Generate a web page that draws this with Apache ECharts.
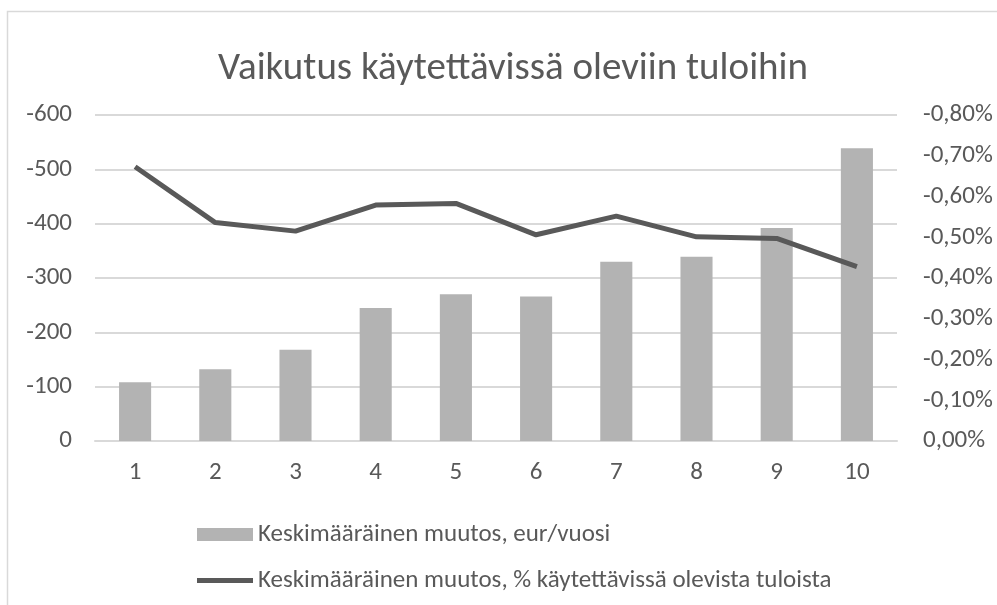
<!DOCTYPE html>
<html><head><meta charset="utf-8">
<script src="https://cdn.jsdelivr.net/npm/echarts@6/dist/echarts.min.js"></script>
<style>html,body{margin:0;padding:0;background:#fff}#c{width:997px;height:605px}</style>
</head><body><div id="c"></div>
<script>
const titleText = 'Vaikutus käytettävissä oleviin tuloihin';
const categories = ['1','2','3','4','5','6','7','8','9','10'];
const barName = 'Keskimääräinen muutos, eur/vuosi';
const lineName = 'Keskimääräinen muutos, % käytettävissä olevista tuloista';
const eurValues = [-108, -132, -168, -245, -270, -266, -330, -339, -392, -539];
const pctValues = [-0.673, -0.536, -0.515, -0.579, -0.583, -0.506, -0.552, -0.501, -0.497, -0.428];

const FONT = 'Carlito, "Noto Sans"';
const chart = echarts.init(document.getElementById('c'), null, {renderer:'canvas'});
chart.setOption({
  animation: false,
  backgroundColor: '#fff',
  textStyle: {fontFamily: FONT},
  graphic: [{type:'rect', shape:{x:7.5, y:11.5, width:995, height:600}, style:{fill:'none', stroke:'#d9d9d9', lineWidth:1.5}}],
  title: {text: titleText, left: 213, top: 45, textStyle:{fontFamily: FONT, fontSize: 39, fontWeight:'normal', color:'#595959'}},
  grid: {left: 95, right: 100, top: 115, bottom: 164},
  legend: {
    orient: 'vertical', left: 192, top: 517, itemGap: 21, itemWidth: 56, itemHeight: 13,
    textStyle: {fontFamily: FONT, fontSize: 25, color:'#595959'},
    data: [{name: barName, icon:'rect'}, {name: lineName, icon:'path://M0,0 L56,0 L56,5 L0,5 Z'}]
  },
  xAxis: {
    type: 'category', data: categories,
    axisLine: {lineStyle:{color:'#d9d9d9', width:2}}, axisTick:{show:false},
    axisLabel: {color:'#595959', fontSize: 25, fontFamily: FONT, margin: 19}
  },
  yAxis: [{
    type:'value', min:-600, max:0, interval:100, inverse:true,
    axisLine:{show:false}, axisTick:{show:false},
    splitLine:{lineStyle:{color:'#d9d9d9', width:2}},
    axisLabel:{color:'#595959', fontSize:25, fontFamily: FONT, margin: 23}
  },{
    type:'value', min:-0.8, max:0, interval:0.1, inverse:true,
    axisLine:{show:false}, axisTick:{show:false}, splitLine:{show:false},
    axisLabel:{color:'#595959', fontSize:25, fontFamily: FONT, margin: 26,
      formatter: v => v.toFixed(2).replace('.', ',') + '%'}
  }],
  series: [{
    name: barName, type:'bar', data: eurValues, barWidth:'40%', itemStyle:{color:'#b3b3b3'}
  },{
    name: lineName, type:'line', yAxisIndex:1, data: pctValues, symbol:'none', showSymbol:false,
    lineStyle:{color:'#595959', width:5}, itemStyle:{color:'#595959'}
  }]
});
</script></body></html>
